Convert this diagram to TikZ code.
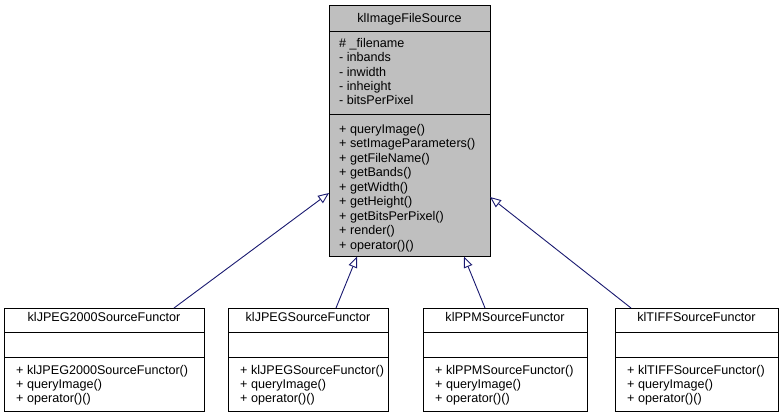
\documentclass[tikz,border=0pt]{standalone}
\usepackage{fontspec}
\setmainfont{Liberation Sans}
\usetikzlibrary{arrows.meta}
\definecolor{edgeblue}{HTML}{191970}
\definecolor{boxgray}{HTML}{BFBFBF}
\begin{document}
\begin{tikzpicture}[x=1pt, y=-1pt, font=\fontsize{12.6}{14.4}\selectfont,
    cls/.style={draw=black, line width=1pt, inner sep=0pt, outer sep=0pt, anchor=north west},
    member/.style={inner sep=0pt, anchor=base west},
    head/.style={inner sep=0pt, anchor=base},
    inherit/.style={draw=edgeblue, line width=0.9pt,
      -{Triangle[open, length=11pt, width=9pt, fill=white]}}]
    \useasboundingbox (0,0) rectangle (783,419);
    \node[cls, fill=boxgray, minimum width=161pt, minimum height=250.5pt] (src) at (329,6) {};
    \draw[line width=1pt] ([yshift=-26pt]src.north west) -- ([yshift=-26pt]src.north east);
    \draw[line width=1pt] ([yshift=-108.5pt]src.north west) -- ([yshift=-108.5pt]src.north east);
    \node[head] (src-t) at ([yshift=-16.7pt]src.north) {klImageFileSource};
    \foreach \p [count=\i] in {\# \_filename, - inbands, - inwidth, - inheight, - bitsPerPixel}
      {\node[member] (src-a\i) at ([xshift=10pt, yshift={-41.3pt-(\i-1)*14.4pt}]src.north west) {\p};}
    \foreach \p [count=\i] in {+ queryImage(), + setImageParameters(), + getFileName(),
      + getBands(), + getWidth(), + getHeight(), + getBitsPerPixel(), + render(), + operator()()}
      {\node[member] (src-m\i) at ([xshift=10pt, yshift={-127.5pt-(\i-1)*14.45pt}]src.north west) {\p};}
    \foreach \n/\x/\w/\c in {jp2/4/200/klJPEG2000SourceFunctor, jpg/228/160/klJPEGSourceFunctor,
      ppm/423/164/klPPMSourceFunctor, tif/615/163/klTIFFSourceFunctor} {
      \node[cls, fill=white, minimum width=\w pt, minimum height=103pt] (\n) at (\x,308) {};
      \draw[line width=1pt] ([yshift=-24.5pt]\n.north west) -- ([yshift=-24.5pt]\n.north east);
      \draw[line width=1pt] ([yshift=-49.5pt]\n.north west) -- ([yshift=-49.5pt]\n.north east);
      \node[head] (\n-t) at ([yshift=-13.7pt]\n.north) {\c};
      \node[member] (\n-m1) at ([xshift=12pt, yshift=-66pt]\n.north west) {+ \c()};
      \node[member] (\n-m2) at ([xshift=12pt, yshift=-80.3pt]\n.north west) {+ queryImage()};
      \node[member] (\n-m3) at ([xshift=12pt, yshift=-94.3pt]\n.north west) {+ operator()()};
    }
    \draw[inherit] ([xshift=170pt]jp2.north west) -- ([yshift=-187pt]src.north west);
    \draw[inherit] ([xshift=108pt]jpg.north west) -- ([xshift=28pt]src.south west);
    \draw[inherit] ([xshift=62pt]ppm.north west) -- ([xshift=-26pt]src.south east);
    \draw[inherit] ([xshift=16pt]tif.north west) -- ([yshift=-191pt]src.north east);
\end{tikzpicture}
\end{document}
